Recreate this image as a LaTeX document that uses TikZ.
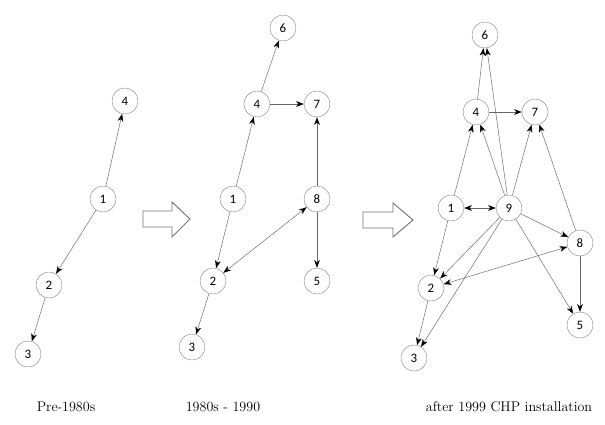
\documentclass[tikz,border=0pt]{standalone}
\usepackage{fontspec}
\newfontfamily\numfont{Carlito}
\usetikzlibrary{arrows.meta}

\begin{document}
\begin{tikzpicture}[x=0.03cm, y=-0.03cm, >={Stealth[black, length=2.3mm, width=1.7mm, inset=0.7mm]}, every node/.style={circle, draw=black!45, minimum size=0.78cm, inner sep=0pt, font=\numfont\fontsize{11}{13}\selectfont}, every edge/.style={draw=black!60, ->}]
			\useasboundingbox (0,0) rectangle (605,425);
			
			\node (a4) at (125,101){4};
			\node (a1) at (103,199){1};
			\node (a2) at (49,285){2};
			\node (a3) at (28,354){3};
			\node[rectangle, draw=none, font=\large] (text1) at (66,407){Pre-1980s};
			
			\path (a1) edge (a4);
			\path (a1) edge (a2);
			\path (a2) edge (a3);
			
			\draw[black!55, thick] (190,219) -- (172,202) -- (172,211) -- (143,211) -- (143,227) -- (172,227) -- (172,237) -- cycle;
			
			\node (b6) at (283,28){6};
			\node (b4) at (257,104){4};
			\node (b7) at (317,104){7};
			\node (b1) at (233,199){1};
			\node (b8) at (317,199){8};
			\node (b2) at (213,281){2};
			\node (b5) at (317,281){5};
			\node (b3) at (192,347){3};
			\node[rectangle, draw=none, font=\large] (text2) at (223,407){1980s - 1990};
			
			\path (b4) edge (b6);
			\path (b4) edge (b7);
			\path (b1) edge (b4);
			\path (b1) edge (b2);
			\path (b8) edge (b7);
			\path (b8) edge (b5);
			\path (b2) edge[<->] (b8);
			\path (b2) edge (b3);
			
			\draw[black!55, thick] (413,220) -- (393,203) -- (393,212) -- (363,212) -- (363,228) -- (393,228) -- (393,237) -- cycle;
			
			\node (c6) at (485,35){6};
			\node (c4) at (476,112){4};
			\node (c7) at (535,112){7};
			\node (c1) at (451,208){1};
			\node (c9) at (509,208){9};
			\node (c8) at (580,243){8};
			\node (c2) at (431,288){2};
			\node (c5) at (580,325){5};
			\node (c3) at (414,358){3};
			\node[rectangle, draw=none, font=\large] (text3) at (509,407){after 1999 CHP installation};
			
			\path (c4) edge (c6);
			\path (c4) edge (c7);
			\path (c1) edge (c4);
			\path (c1) edge[<->] (c9);
			\path (c1) edge (c2);
			\path (c9) edge (c6);
			\path (c9) edge (c4);
			\path (c9) edge (c7);
			\path (c9) edge (c8);
			\path (c9) edge (c2);
			\path (c9) edge (c3);
			\path (c9) edge (c5);
			\path (c8) edge (c7);
			\path (c8) edge (c5);
			\path (c2) edge[<->] (c8);
			\path (c2) edge (c3);
			\end{tikzpicture}
\end{document}
